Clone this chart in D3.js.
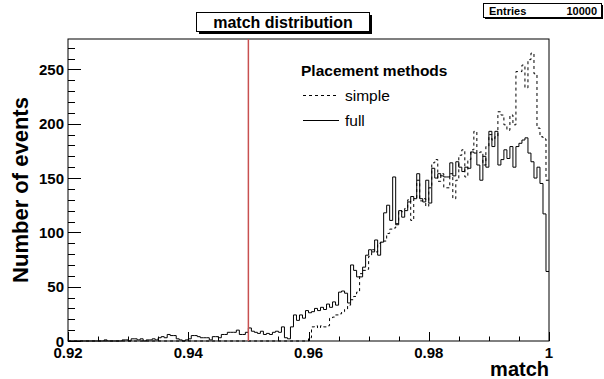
<!DOCTYPE html>
<html><head><meta charset="utf-8">
<script src="https://cdn.jsdelivr.net/npm/d3@7"></script>
<style>
html,body{margin:0;padding:0;background:#fff;}
svg{display:block;font-family:"Liberation Sans",Arial,Helvetica,sans-serif;}
</style>
</head><body>
<svg id="c" width="604" height="379"></svg>
<script>
// histogram range and binning
const xRange = [0.92, 1.0];
const binCount = 160;
const yMax = 278;
const xTicks = [0.92, 0.94, 0.96, 0.98, 1.0];
const xTickLabels = ["0.92", "0.94", "0.96", "0.98", "1"];
const yTicks = [0, 50, 100, 150, 200, 250];
const yTickLabels = ["0", "50", "100", "150", "200", "250"];
const cutValue = 0.95;
const entries = 10000;
const legendNames = ["simple", "full"];

// per-bin counts, "simple" placement
const simple = [
  0,0,0,0,0,0,0,0,0,0, 0,0,0,0,0,0,0,0,0,0,
  0,0,0,0,0,0,0,0,0,0, 0,0,0,0,0,0,0,0,0,0,
  0,0,0,0,0,0,0,0,0,0, 0,0,0,0,0,0,0,0,0,0,
  0,0,0,0,0,0,0,0,0,0, 0,0,0,0,0,0,0,0,0,0,
  3,13,14,12,14,13,14,21,22,24, 25,27,29,33,38,41,45,62,65,66,
  78,84,82,90,91,92,99,103,104,108, 120,119,122,130,111,131,148,129,131,124,
  141,164,167,147,154,141,141,154,131,148, 171,176,151,167,176,193,173,174,162,179,
  190,185,188,211,208,199,194,208,199,248, 248,254,233,259,265,246,196,188,186,148
];

// per-bin counts, "full" placement
const full = [
  0,0,0,0,0,0,0,0,0,0, 0,0,1,0,0,0,0,0,1,1,
  0,2,2,1,2,0,1,1,2,1, 3,4,3,6,5,5,2,1,0,1,
  2,5,5,4,3,3,3,1,4,4, 3,6,6,8,8,8,10,6,6,8,
  12,9,8,7,9,6,7,6,8,9, 8,13,3,2,13,24,19,24,21,28,
  26,27,30,28,31,29,34,31,36,33, 45,46,44,35,70,65,59,59,68,79,
  84,82,93,79,91,118,125,111,151,107, 120,114,120,128,133,131,154,131,128,148,
  127,159,150,154,152,151,151,164,152,165, 160,156,160,159,174,173,162,148,170,160,
  193,179,193,162,167,176,168,179,160,179, 182,185,187,173,165,150,160,145,117,64
];

const svg = d3.select("#c");
const L = 68, R = 549, T = 39, B = 341;

const x = d3.scaleLinear().domain(xRange).range([L, R]);
const y = d3.scaleLinear().domain([0, yMax]).range([B, T]);
const binW = (xRange[1] - xRange[0]) / binCount;

// frame
svg.append("rect").attr("x", L).attr("y", T).attr("width", R - L).attr("height", B - T)
  .attr("fill", "none").attr("stroke", "#000").attr("stroke-width", 1);

// y axis ticks (drawn inside the frame)
const yMinor = d3.range(0, yMax + 0.01, 10);
svg.append("g").selectAll("line").data(yMinor).join("line")
  .attr("x1", L).attr("x2", d => L + (d % 50 === 0 ? 13 : 7))
  .attr("y1", d => Math.round(y(d)) + 0.5).attr("y2", d => Math.round(y(d)) + 0.5)
  .attr("stroke", "#000").attr("stroke-width", 1);

svg.append("g").selectAll("text").data(yTicks).join("text")
  .attr("x", L - 4).attr("y", d => y(d) + 5.5)
  .attr("text-anchor", "end").attr("font-size", 15).attr("font-weight", "bold")
  .text((d, i) => yTickLabels[i]);

// x axis ticks
const xMinor = d3.range(0, 17).map(i => xRange[0] + i * 0.005);
svg.append("g").selectAll("line").data(xMinor).join("line")
  .attr("x1", d => Math.round(x(d)) + 0.5).attr("x2", d => Math.round(x(d)) + 0.5)
  .attr("y1", B).attr("y2", (d, i) => B - (i % 4 === 0 ? 9 : 4.5))
  .attr("stroke", "#000").attr("stroke-width", 1);

svg.append("g").selectAll("text").data(xTicks).join("text")
  .attr("x", d => x(d)).attr("y", B + 16.5)
  .attr("text-anchor", "middle").attr("font-size", 15).attr("font-weight", "bold")
  .text((d, i) => xTickLabels[i]);

// axis titles
svg.append("text").attr("x", R).attr("y", 376).attr("text-anchor", "end")
  .attr("font-size", 20).attr("font-weight", "bold").text("match");
svg.append("text").attr("transform", "translate(28,190) rotate(-90)")
  .attr("text-anchor", "middle").attr("font-size", 22).attr("font-weight", "bold")
  .text("Number of events");

// histogram outlines
const stepLine = d3.line().x(d => x(d[0])).y(d => y(d[1])).curve(d3.curveStepAfter);
function points(vals) {
  const p = vals.map((v, i) => [xRange[0] + i * binW, v]);
  p.push([xRange[1], vals[vals.length - 1]]);
  return p;
}
svg.append("path").attr("d", stepLine(points(simple)))
  .attr("fill", "none").attr("stroke", "#000").attr("stroke-width", 1)
  .attr("stroke-dasharray", "3,3");
svg.append("path").attr("d", stepLine(points(full)))
  .attr("fill", "none").attr("stroke", "#000").attr("stroke-width", 1);

// cut line
svg.append("line").attr("x1", x(cutValue)).attr("x2", x(cutValue))
  .attr("y1", T).attr("y2", B).attr("stroke", "#c85050").attr("stroke-width", 1.5);

// legend
svg.append("text").attr("x", 301).attr("y", 76).attr("font-size", 15.5)
  .attr("font-weight", "bold").text("Placement methods");
const lg = svg.append("g");
[[95, "3,3"], [120, null]].forEach(([ly, dash], i) => {
  lg.append("line").attr("x1", 303).attr("x2", 339).attr("y1", ly + 0.5).attr("y2", ly + 0.5)
    .attr("stroke", "#000").attr("stroke-width", 1).attr("stroke-dasharray", dash);
  lg.append("text").attr("x", 345).attr("y", ly + 6).attr("font-size", 15.5).text(legendNames[i]);
});

// title box with shadow
svg.append("rect").attr("x", 199).attr("y", 15).attr("width", 173).attr("height", 19).attr("fill", "#000");
svg.append("rect").attr("x", 196.5).attr("y", 12.5).attr("width", 173).attr("height", 19)
  .attr("fill", "#fff").attr("stroke", "#000").attr("stroke-width", 1);
svg.append("text").attr("x", 283).attr("y", 27.5).attr("text-anchor", "middle")
  .attr("font-size", 16).attr("font-weight", "bold").text("match distribution");

// statistics box
svg.append("rect").attr("x", 485).attr("y", 5).attr("width", 118).attr("height", 14).attr("fill", "#000");
svg.append("rect").attr("x", 483.5).attr("y", 3.5).attr("width", 118).attr("height", 14)
  .attr("fill", "#fff").attr("stroke", "#000").attr("stroke-width", 1);
svg.append("text").attr("x", 489).attr("y", 14.5).attr("font-size", 11).attr("font-weight", "bold").text("Entries");
svg.append("text").attr("x", 597).attr("y", 14.5).attr("text-anchor", "end").attr("font-size", 11)
  .attr("font-weight", "bold").text(entries);
</script>
</body></html>
